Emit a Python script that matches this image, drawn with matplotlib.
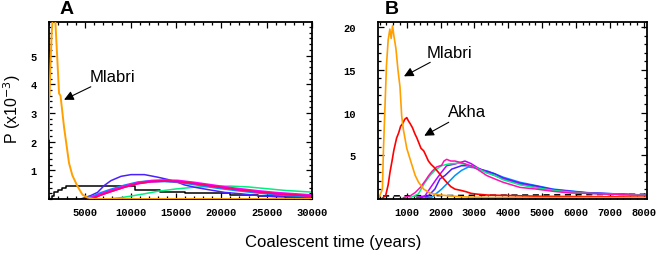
import matplotlib
matplotlib.use("Agg")
import matplotlib.pyplot as plt
from matplotlib.ticker import MultipleLocator

plt.rcParams['font.family'] = ['Liberation Sans', 'DejaVu Sans']

# ---- panel A data (years, P x1e-3) ----
a_orange_x = [1000, 1000, 1060, 1150, 1300, 1450, 1650, 1920, 2110, 2270, 2660, 3210, 3580, 4130, 4690, 5240, 6000, 30000]
a_orange_y = [2.1, 3.6, 3.6, 4.6, 5.8, 6.5, 6.5, 4.85, 3.68, 3.6, 2.5, 1.25, 0.82, 0.45, 0.15, 0.05, 0.0, 0.0]

a_black_x = [1000, 1300, 1600, 2000, 2400, 2900, 9500, 10500, 13200, 16000, 21000, 24000, 27000, 30000]
a_black_y = [0.0, 0.1, 0.23, 0.3, 0.38, 0.45, 0.45, 0.33, 0.26, 0.2, 0.14, 0.09, 0.06, 0.05]

a_violet_x = [4500, 5600, 6350, 7090, 7830, 8940, 10040, 11520, 13000, 14100, 15200, 15950, 17050, 18500, 20370, 22200, 24060, 25900, 29600, 30000]
a_violet_y = [0.0, 0.12, 0.23, 0.47, 0.64, 0.79, 0.85, 0.85, 0.76, 0.68, 0.58, 0.49, 0.41, 0.33, 0.23, 0.18, 0.12, 0.08, 0.05, 0.05]

a_band_x = [5000, 6000, 6720, 7830, 9300, 10780, 12260, 13730, 15200, 17050, 19260, 21470, 23690, 25900, 29600, 30000]
a_dodger_y = [0.0, 0.1, 0.2, 0.32, 0.46, 0.57, 0.62, 0.63, 0.6, 0.52, 0.41, 0.32, 0.24, 0.17, 0.1, 0.1]
a_magenta_y = [0.0, 0.06, 0.16, 0.28, 0.43, 0.55, 0.62, 0.64, 0.63, 0.56, 0.46, 0.36, 0.28, 0.21, 0.13, 0.12]
a_pink_y = [0.0, 0.05, 0.14, 0.26, 0.41, 0.54, 0.61, 0.63, 0.61, 0.54, 0.44, 0.34, 0.26, 0.19, 0.11, 0.11]

a_green_x = [7500, 9000, 10000, 11500, 13000, 15000, 17000, 19000, 21000, 23000, 25000, 27000, 30000]
a_green_y = [0.0, 0.05, 0.1, 0.18, 0.27, 0.35, 0.41, 0.44, 0.45, 0.42, 0.36, 0.3, 0.24]

# ---- panel B data ----
b_orange_x = [180, 280, 310, 350, 400, 450, 500, 540, 580, 620, 680, 740, 800, 850, 900, 950, 1000, 1100,
              1250, 1350, 1500, 1700, 2000, 2300, 2600, 3000, 3500, 8100]
b_orange_y = [0.0, 1.0, 5.5, 10.0, 15.5, 18.5, 19.8, 18.7, 20.2, 19.0, 17.5, 15.0, 13.0, 9.6, 8.0, 6.9, 5.8, 4.5,
              2.6, 1.8, 1.0, 0.5, 0.3, 0.2, 0.1, 0.05, 0.02, 0.0]

b_red_x = [300, 380, 450, 505, 560, 620, 700, 760, 820, 880, 940, 1000, 1050, 1100, 1170, 1240, 1300, 1350,
           1420, 1500, 1560, 1640, 1720, 1800, 1930, 2050, 2180, 2300, 2425, 2600, 2750, 2900, 3100, 3400,
           4000, 5000, 6000, 7000, 8100]
b_red_y = [0.0, 0.3, 1.5, 3.0, 4.2, 5.6, 7.0, 7.6, 8.4, 8.7, 9.2, 9.4, 9.0, 8.7, 8.2, 7.5, 7.0, 6.5,
           5.8, 5.5, 5.0, 4.3, 3.9, 3.6, 3.0, 2.4, 1.8, 1.3, 1.0, 0.85, 0.7, 0.5, 0.4, 0.3,
           0.25, 0.15, 0.12, 0.1, 0.05]

b_pink_x = [900, 1100, 1250, 1400, 1550, 1650, 1750, 1880, 2030, 2100, 2180, 2300, 2425, 2620, 2920, 3100,
            3360, 3600, 3850, 4100, 4350, 4840, 5330, 5820, 6300, 6800, 7300, 8100]
b_pink_y = [0.0, 0.2, 0.6, 1.2, 2.0, 2.6, 3.1, 3.6, 3.8, 4.3, 4.5, 4.3, 4.3, 4.1, 3.7, 3.3,
            2.6, 2.2, 1.8, 1.5, 1.2, 1.0, 0.74, 0.55, 0.5, 0.43, 0.35, 0.25]

b_green_x = [1100, 1340, 1540, 1690, 1830, 2030, 2230, 2520, 2750, 3000, 3360, 3600, 3850, 4100, 4350, 4840,
             5330, 5820, 6300, 6800, 7300, 8100]
b_green_y = [0.0, 0.42, 1.8, 2.6, 3.2, 3.75, 3.95, 4.05, 3.9, 3.6, 2.9, 2.6, 2.1, 1.8, 1.5, 1.15,
             0.85, 0.65, 0.52, 0.45, 0.38, 0.28]

b_magenta_x = [1300, 1540, 1740, 1880, 2030, 2180, 2425, 2720, 2900, 3100, 3360, 3600, 3850, 4100, 4350, 4840,
               5330, 5820, 6300, 6800, 7300, 8100]
b_magenta_y = [0.0, 0.22, 1.4, 2.2, 3.0, 3.75, 3.95, 4.3, 4.0, 3.5, 3.0, 2.6, 2.2, 1.9, 1.6, 1.2,
               0.9, 0.7, 0.55, 0.47, 0.4, 0.3]

b_violet_x = [1400, 1640, 1830, 1980, 2130, 2330, 2620, 2900, 3100, 3360, 3600, 3850, 4100, 4350, 4840,
              5330, 5820, 6300, 6800, 7300, 8100]
b_violet_y = [0.0, 0.22, 1.0, 2.2, 2.6, 3.35, 3.75, 3.75, 3.4, 3.1, 2.8, 2.3, 2.0, 1.7, 1.35,
              0.95, 0.75, 0.58, 0.5, 0.42, 0.3]

b_dodger_x = [1550, 1740, 2030, 2230, 2425, 2620, 2820, 3000, 3200, 3400, 3600, 3850, 4100, 4350, 4840,
              5330, 5820, 6300, 6800, 7300, 8100]
b_dodger_y = [0.0, 0.05, 1.0, 1.8, 2.6, 3.2, 3.6, 3.5, 3.3, 3.1, 2.8, 2.4, 2.1, 1.8, 1.4,
              1.0, 0.8, 0.6, 0.5, 0.43, 0.27]

b_dash_x = [300, 8100]
b_dash_y = [0.2, 0.4]

ORANGE = '#ffa000'
DODGER = '#0090ff'
VIOLET = '#4a20ff'
MAGENTA = '#ff00ff'
PINK = '#ff0070'
GREEN = '#00f080'

fig = plt.figure(figsize=(6.61, 2.55), dpi=100)
axA = fig.add_axes([49/661, 1-200/255, 263/661, 177/255])
axB = fig.add_axes([378/661, 1-200/255, 269/661, 177/255])

lw = 1.1
axA.plot(a_black_x, a_black_y, color='black', lw=lw, drawstyle='steps-post')
axA.plot(a_green_x, a_green_y, color=GREEN, lw=lw)
axA.plot(a_violet_x, a_violet_y, color=VIOLET, lw=lw)
axA.plot(a_band_x, a_dodger_y, color=DODGER, lw=2.0)
axA.plot(a_band_x, a_magenta_y, color=MAGENTA, lw=2.0)
axA.plot(a_band_x, a_pink_y, color=PINK, lw=1.3)
axA.plot(a_orange_x, a_orange_y, color=ORANGE, lw=1.4, zorder=5)
axA.set_xlim(1000, 30000)
axA.set_ylim(0, 6.17)

axB.plot(b_dash_x, b_dash_y, color='black', lw=1.1, ls=(0, (4, 3)))
axB.plot(b_dodger_x, b_dodger_y, color=DODGER, lw=lw)
axB.plot(b_violet_x, b_violet_y, color=VIOLET, lw=lw)
axB.plot(b_magenta_x, b_magenta_y, color='#c000ff', lw=lw)
axB.plot(b_green_x, b_green_y, color=GREEN, lw=lw)
axB.plot(b_pink_x, b_pink_y, color='#ff10b0', lw=lw)
axB.plot(b_red_x, b_red_y, color='#ff0000', lw=1.2)
axB.plot(b_orange_x, b_orange_y, color=ORANGE, lw=1.2)
axB.set_xlim(150, 8100)
axB.set_ylim(-0.16, 20.63)

axA.xaxis.set_minor_locator(MultipleLocator(1000))
axA.yaxis.set_minor_locator(MultipleLocator(0.2))
axB.xaxis.set_minor_locator(MultipleLocator(200))
axB.yaxis.set_minor_locator(MultipleLocator(1))
axA.set_xticks([5000, 10000, 15000, 20000, 25000, 30000])
axA.set_yticks([1, 2, 3, 4, 5])
axB.set_xticks(list(range(1000, 8001, 1000)))
axB.set_yticks([5, 10, 15, 20])

for ax, ypad in ((axA, 9), (axB, 16)):
    for s in ax.spines.values():
        s.set_linewidth(1.3)
    ax.tick_params(which='both', direction='in', top=True, right=True, width=0.9)
    ax.tick_params(which='major', length=4)
    ax.tick_params(which='minor', length=2)
    ax.tick_params(axis='x', pad=6)
    ax.tick_params(axis='y', pad=ypad)
    for lab in ax.get_xticklabels() + ax.get_yticklabels():
        lab.set_family('Liberation Mono')
        lab.set_fontsize(7.5)
        lab.set_fontweight('bold')

arrow = dict(arrowstyle='-|>', color='black', lw=0.8, mutation_scale=14, shrinkA=0, shrinkB=0)
axA.annotate('Mlabri', xy=(2660, 3.46), xytext=(5430, 4.27), fontsize=12,
             va='center', ha='left', arrowprops=arrow)
axB.annotate('Mlabri', xy=(918, 14.25), xytext=(1590, 17.1), fontsize=12,
             va='center', ha='left', arrowprops=arrow)
axB.annotate('Akha', xy=(1518, 7.27), xytext=(2228, 10.06), fontsize=12,
             va='center', ha='left', arrowprops=arrow)

fig.text(67/661, 1-10/255, 'A', fontsize=14, fontweight='bold', ha='center', va='center')
fig.text(392/661, 1-10/255, 'B', fontsize=14, fontweight='bold', ha='center', va='center')
fig.text(12/661, 1-109/255, 'P (x10$^{-3}$)', fontsize=11.5, rotation=90, ha='center', va='center')
fig.text(333/661, 1-243/255, 'Coalescent time (years)', fontsize=12, ha='center', va='center')

fig.savefig('out.png', dpi=100)
